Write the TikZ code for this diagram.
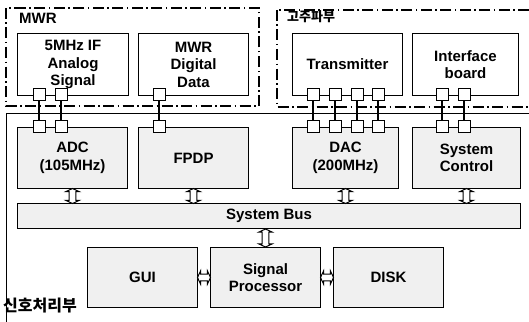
\documentclass[tikz,border=0pt]{standalone}
\usepackage{fontspec}
\setmainfont{Liberation Sans}
\newfontfamily\krfont{Noto Sans CJK KR}
\usetikzlibrary{shapes.arrows,calc}
\begin{document}
\begin{tikzpicture}[x=1pt,y=-1pt,
  every node/.style={inner sep=0pt},
  blk/.style={draw,line width=1pt,anchor=north west,align=center,
    font=\fontsize{15}{17.5}\selectfont\bfseries},
  ublk/.style={blk,fill=white},
  lblk/.style={blk,fill=gray!12},
  grp/.style={line width=1.2pt,dash pattern=on 11pt off 3.5pt on 1.5pt off 3.5pt},
  sq/.style={draw,fill=white,line width=1pt,minimum size=12pt},
  link/.style={line width=2.6pt},
  darr/.style={double arrow,draw,fill=white,line width=1pt,
    minimum width=13pt,minimum height=15pt,inner sep=2.4pt,
    double arrow head extend=2.8pt,double arrow tip angle=130},
  grplabel/.style={anchor=west,font=\krfont\bfseries}
]
\useasboundingbox (0,0) rectangle (529,321);
\clip (0,0) rectangle (529,321);
\fill[white] (0,0) rectangle (529,321);

% group frames
\draw[grp] (6,8) rectangle (259,106);
\draw[grp] (277,10) rectangle (540,107);
\draw[line width=1pt] (6,330) -- (6,113) -- (540,113);

\node[anchor=west,font=\fontsize{15}{17}\selectfont\bfseries] (lmwr) at (19,18) {MWR};
\node[grplabel,font=\fontsize{13}{15}\selectfont\krfont\bfseries] (lhf) at (287,17) {고주파부};
\node[grplabel,font=\fontsize{16}{18}\selectfont\krfont\bfseries] (lsp) at (3,306) {신호처리부};

% upper boxes
\node[ublk,minimum width=111pt,minimum height=62pt] (ifsig) at (17,33) {5MHz IF\\Analog\\Signal};
\node[ublk,minimum width=110pt,minimum height=62pt] (mwrdd) at (138,33) {MWR\\Digital\\Data};
\node[ublk,minimum width=110pt,minimum height=62pt] (tx) at (292,33) {Transmitter};
\node[ublk,minimum width=106pt,minimum height=62pt] (ifb) at (412,33) {Interface\\board};

% lower boxes
\node[lblk,minimum width=110pt,minimum height=61pt] (adc) at (17,127) {ADC\\(105MHz)};
\node[lblk,minimum width=110pt,minimum height=61pt] (fpdp) at (138,127) {FPDP};
\node[lblk,minimum width=106pt,minimum height=61pt] (dac) at (292,127) {DAC\\(200MHz)};
\node[lblk,minimum width=108pt,minimum height=61pt] (sysc) at (412,127) {System\\Control};

\node[lblk,minimum width=503pt,minimum height=25pt] (bus) at (17,203) {System Bus};

\node[lblk,minimum width=110pt,minimum height=60pt] (gui) at (87,247) {GUI};
\node[lblk,minimum width=110pt,minimum height=60pt] (sp) at (210,247) {Signal\\Processor};
\node[lblk,minimum width=110pt,minimum height=60pt] (disk) at (333,247) {DISK};

% square connectors
\foreach \n/\x in {a/39,b/61,c/159,d/313,e/335,f/357,g/378,h/442,i/464}{
  \draw[link] (\x,94) -- (\x,126);
  \node[sq] (t\n) at (\x,94) {};
  \node[sq] (b\n) at (\x,126) {};
}

% double arrows
\foreach \b in {adc,fpdp,dac,sysc}{
  \node[darr,rotate=90] (d\b) at ($(\b.south)!0.5!(\b.south|-bus.north)$) {};
}
\node[darr,rotate=90,minimum height=18pt] (dsp) at ($(sp.north)!0.5!(sp.north|-bus.south)$) {};
\node[darr,minimum height=13pt] (dgs) at ($(gui.east)!0.5!(sp.west)$) {};
\node[darr,minimum height=13pt] (dsd) at ($(sp.east)!0.5!(disk.west)$) {};
\end{tikzpicture}
\end{document}
